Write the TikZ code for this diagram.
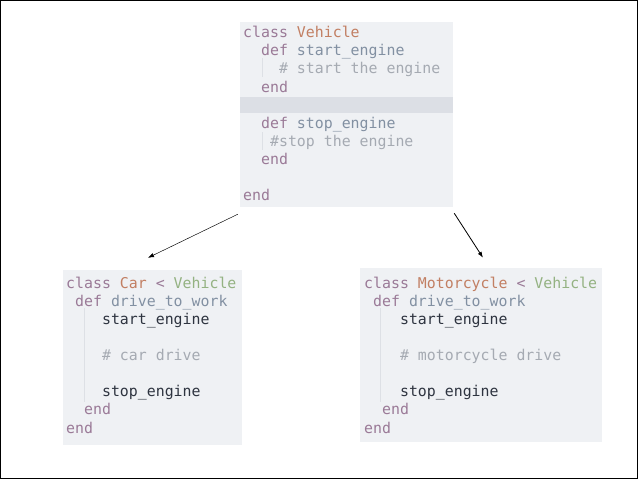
\documentclass[tikz,border=0pt]{standalone}
\usepackage{fontspec}
\setmonofont{DejaVu Sans Mono}
\usetikzlibrary{arrows.meta}

\definecolor{boxbg}{HTML}{EFF1F4}
\definecolor{rowhl}{HTML}{DCDFE5}
\definecolor{kwc}{HTML}{9A7A97}
\definecolor{clsc}{HTML}{C27F63}
\definecolor{supc}{HTML}{94B282}
\definecolor{methc}{HTML}{8290A2}
\definecolor{cmtc}{HTML}{A5AAB2}
\definecolor{callc}{HTML}{2E3440}
\definecolor{guidec}{HTML}{DDE0E5}

\newcommand\codefont{\ttfamily\fontsize{12.7pt}{15.45pt}\selectfont}
\newcommand\pad[1]{\hspace*{#1\fontcharwd\font`x}}
\newcommand\firstline{\rule{0pt}{0.42cm}}
\newcommand\kwd[1]{\textcolor{kwc}{#1}}
\newcommand\clsn[1]{\textcolor{clsc}{#1}}
\newcommand\supn[1]{\textcolor{supc}{#1}}
\newcommand\methn[1]{\textcolor{methc}{#1}}
\newcommand\cmtn[1]{\textcolor{cmtc}{#1}}
\newcommand\calln[1]{\textcolor{callc}{#1}}

\begin{document}
\begin{tikzpicture}[x=0.03cm, y=-0.03cm, >={Latex[length=1.8mm, width=1.3mm]},
	codebox/.style={fill=boxbg, draw=none, inner sep=0pt},
	code/.style={font=\codefont, align=left, inner sep=0pt, anchor=north west},
	guide/.style={guidec, line width=0.6pt}]
	\useasboundingbox (0,0) rectangle (638,479);
	\draw[line width=2.4pt] (0,0) rectangle (638,479);

	% parent class
	\node[codebox, minimum width=6.39cm, minimum height=5.55cm] (vehicle) at (346.5,114.5) {};
	\fill[rowhl] (240,97) rectangle (453,113);
	\draw[guide] (262,58) -- (262,77);
	\draw[guide] (262,132) -- (262,150);
	\node[code] (vehiclecode) at (243,23.5) {\firstline\kwd{class} \clsn{Vehicle}\\
		\pad{2}\kwd{def} \methn{start\_engine}\\
		\pad{4}\cmtn{\# start the engine}\\
		\pad{2}\kwd{end}\\
		\mbox{}\\
		\pad{2}\kwd{def} \methn{stop\_engine}\\
		\pad{3}\cmtn{\#stop the engine}\\
		\pad{2}\kwd{end}\\
		\mbox{}\\
		\kwd{end}};

	% subclasses
	\node[codebox, minimum width=5.37cm, minimum height=5.25cm] (car) at (152.5,357.5) {};
	\draw[guide] (84,308) -- (84,402);
	\node[code] (carcode) at (66,274) {\firstline\kwd{class} \clsn{Car} \kwd{<} \supn{Vehicle}\\
		\pad{1}\kwd{def} \methn{drive\_to\_work}\\
		\pad{4}\calln{start\_engine}\\
		\mbox{}\\
		\pad{4}\cmtn{\# car drive}\\
		\mbox{}\\
		\pad{4}\calln{stop\_engine}\\
		\pad{2}\kwd{end}\\
		\kwd{end}};

	\node[codebox, minimum width=7.26cm, minimum height=5.22cm] (moto) at (481,355) {};
	\draw[guide] (380,308) -- (380,402);
	\node[code] (motocode) at (364,274) {\firstline\kwd{class} \clsn{Motorcycle} \kwd{<} \supn{Vehicle}\\
		\pad{1}\kwd{def} \methn{drive\_to\_work}\\
		\pad{4}\calln{start\_engine}\\
		\mbox{}\\
		\pad{4}\cmtn{\# motorcycle drive}\\
		\mbox{}\\
		\pad{4}\calln{stop\_engine}\\
		\pad{2}\kwd{end}\\
		\kwd{end}};

	\draw[->, line width=0.4pt] ([shift={(-2,7)}]vehicle.south west) -- ([shift={(-4.5,-12)}]car.north);
	\draw[->, line width=0.7pt] ([shift={(1,6)}]vehicle.south east) -- ([shift={(2,-10)}]moto.north);
\end{tikzpicture}
\end{document}
